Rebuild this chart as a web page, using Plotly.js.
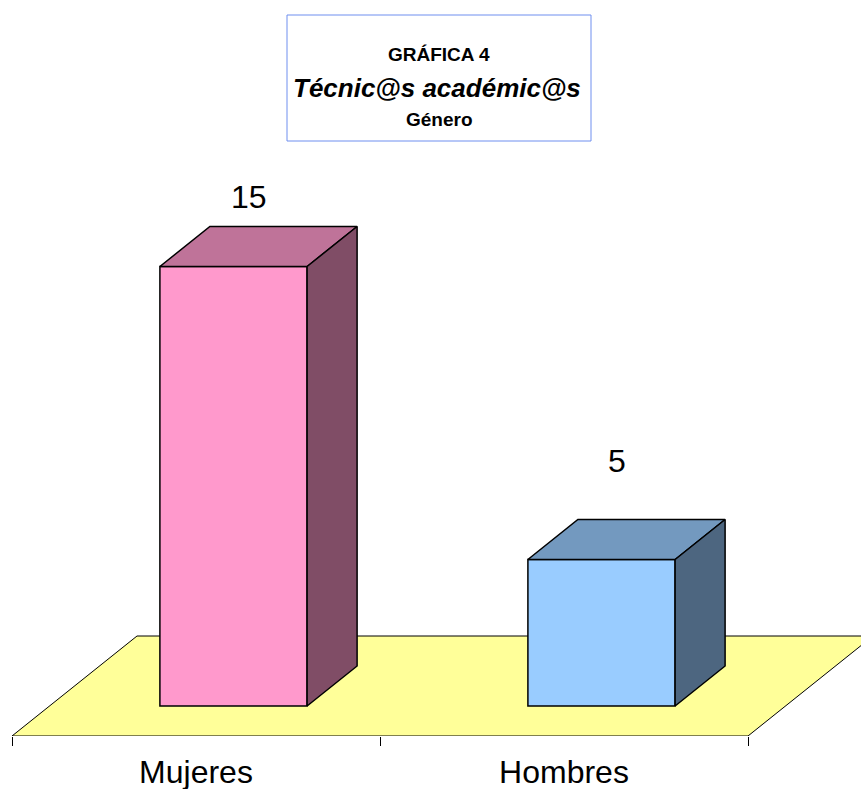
<!DOCTYPE html>
<html>
<head>
<meta charset="utf-8">
<script src="https://cdn.plot.ly/plotly-3.0.1.min.js"></script>
<style>html,body{margin:0;padding:0;background:#fff;}#chart{width:861px;height:789px;}</style>
</head>
<body>
<div id="chart"></div>
<script>
// ---- data ----
const categories = ['Mujeres', 'Hombres'];
const values = [15, 5];
const frontColors = ['#FF99CC', '#99CCFF'];
const topColors = ['#BF7399', '#7399BF'];
const sideColors = ['#804D66', '#4D6680'];
const titleLines = ['GRÁFICA 4', 'Técnic@s académic@s', 'Género'];

// ---- projection geometry (layout, not data) ----
const W = 861, H = 789;
const mL = 12, mR = 0, mT = 150, mB = 53;
const pxPerX = 368;                 // one category slot in px
const yMax = 20;
const pxPerY = (H - mT - mB) / yMax;
const floorDx = 125 / pxPerX, floorDy = 100 / pxPerY;  // full floor depth
const barW = 0.4;
const frontDepth = 0.3, barDepth = 0.4;
const bx0 = frontDepth * floorDx, by0 = frontDepth * floorDy;
const bdx = barDepth * floorDx, bdy = barDepth * floorDy;
const xRange = [-0.5, -0.5 + (W - mL - mR) / pxPerX];

const traces = [];
// front faces as bars
traces.push({
  type: 'bar',
  x: categories.map((c, i) => i + bx0),
  y: values,
  base: values.map(() => by0),
  width: values.map(() => barW),
  marker: {color: frontColors, line: {color: '#000', width: 1.5}},
  hoverinfo: 'skip', showlegend: false
});
// top and side faces
values.forEach((v, i) => {
  const xl = i + bx0 - barW / 2, xr = i + bx0 + barW / 2;
  const top = by0 + v;
  traces.push({
    type: 'scatter', mode: 'lines', fill: 'toself', fillcolor: topColors[i],
    x: [xl, xr, xr + bdx, xl + bdx, xl],
    y: [top, top, top + bdy, top + bdy, top],
    line: {color: '#000', width: 1.5}, hoverinfo: 'skip', showlegend: false
  });
  traces.push({
    type: 'scatter', mode: 'lines', fill: 'toself', fillcolor: sideColors[i],
    x: [xr, xr, xr + bdx, xr + bdx, xr],
    y: [by0, top, top + bdy, by0 + bdy, by0],
    line: {color: '#000', width: 1.5}, hoverinfo: 'skip', showlegend: false
  });
});

const n = categories.length;
const fl = -0.5, fr = n - 0.5;
const floorPath = `M ${fl},0 L ${fr},0 L ${fr + floorDx},${floorDy} L ${fl + floorDx},${floorDy} Z`;

const annotations = values.map((v, i) => ({
  x: i + bx0 + bdx * 0.3, y: 0.9 * v + 4.9, xref: 'x', yref: 'y',
  text: String(v), showarrow: false,
  font: {family: 'Liberation Sans, Arial, sans-serif', size: 32, color: '#000'},
  xanchor: 'center', yanchor: 'middle'
}));

const toPX = px => (px - mL) / (W - mL - mR);
const toPY = py => (H - mB - py) / (H - mT - mB);
const titleFont = 'Liberation Sans, Arial, sans-serif';
annotations.push(
  {xref: 'paper', yref: 'paper', x: toPX(439), y: toPY(54), text: '<b>' + titleLines[0] + '</b>', showarrow: false,
   font: {family: titleFont, size: 19, color: '#000'}, xanchor: 'center', yanchor: 'middle'},
  {xref: 'paper', yref: 'paper', x: toPX(437), y: toPY(88), text: '<b><i>' + titleLines[1] + '</i></b>', showarrow: false,
   font: {family: titleFont, size: 26, color: '#000'}, xanchor: 'center', yanchor: 'middle'},
  {xref: 'paper', yref: 'paper', x: toPX(439), y: toPY(120), text: '<b>' + titleLines[2] + '</b>', showarrow: false,
   font: {family: titleFont, size: 19, color: '#000'}, xanchor: 'center', yanchor: 'middle'}
);

const layout = {
  width: W, height: H,
  margin: {l: mL, r: mR, t: mT, b: mB, pad: 0},
  paper_bgcolor: '#fff', plot_bgcolor: '#fff',
  showlegend: false,
  barmode: 'overlay',
  xaxis: {
    range: xRange, fixedrange: true, showgrid: false, zeroline: false, showline: false,
    tickmode: 'array', tickvals: categories.map((c, i) => i), ticktext: categories,
    ticks: '', ticklabelstandoff: 14, automargin: false,
    tickfont: {family: 'Liberation Sans, Arial, sans-serif', size: 32, color: '#000'},
    minor: {tickmode: 'array', tickvals: [fl, 0.5, fr], ticks: 'outside', ticklen: 9, tickcolor: '#000', tickwidth: 1, showgrid: false}
  },
  yaxis: {range: [0, yMax], visible: false, fixedrange: true},
  shapes: [
    {type: 'path', xref: 'x', yref: 'y', path: floorPath, fillcolor: '#FFFF99',
     line: {color: '#000', width: 1}, layer: 'below'},
    {type: 'rect', xref: 'paper', yref: 'paper', x0: toPX(287), x1: toPX(591), y0: toPY(141), y1: toPY(15),
     line: {color: '#6F8FEF', width: 1}, fillcolor: 'rgba(0,0,0,0)', layer: 'above'}
  ],
  annotations: annotations
};

Plotly.newPlot('chart', traces, layout, {displayModeBar: false, staticPlot: true});
</script>
</body>
</html>
